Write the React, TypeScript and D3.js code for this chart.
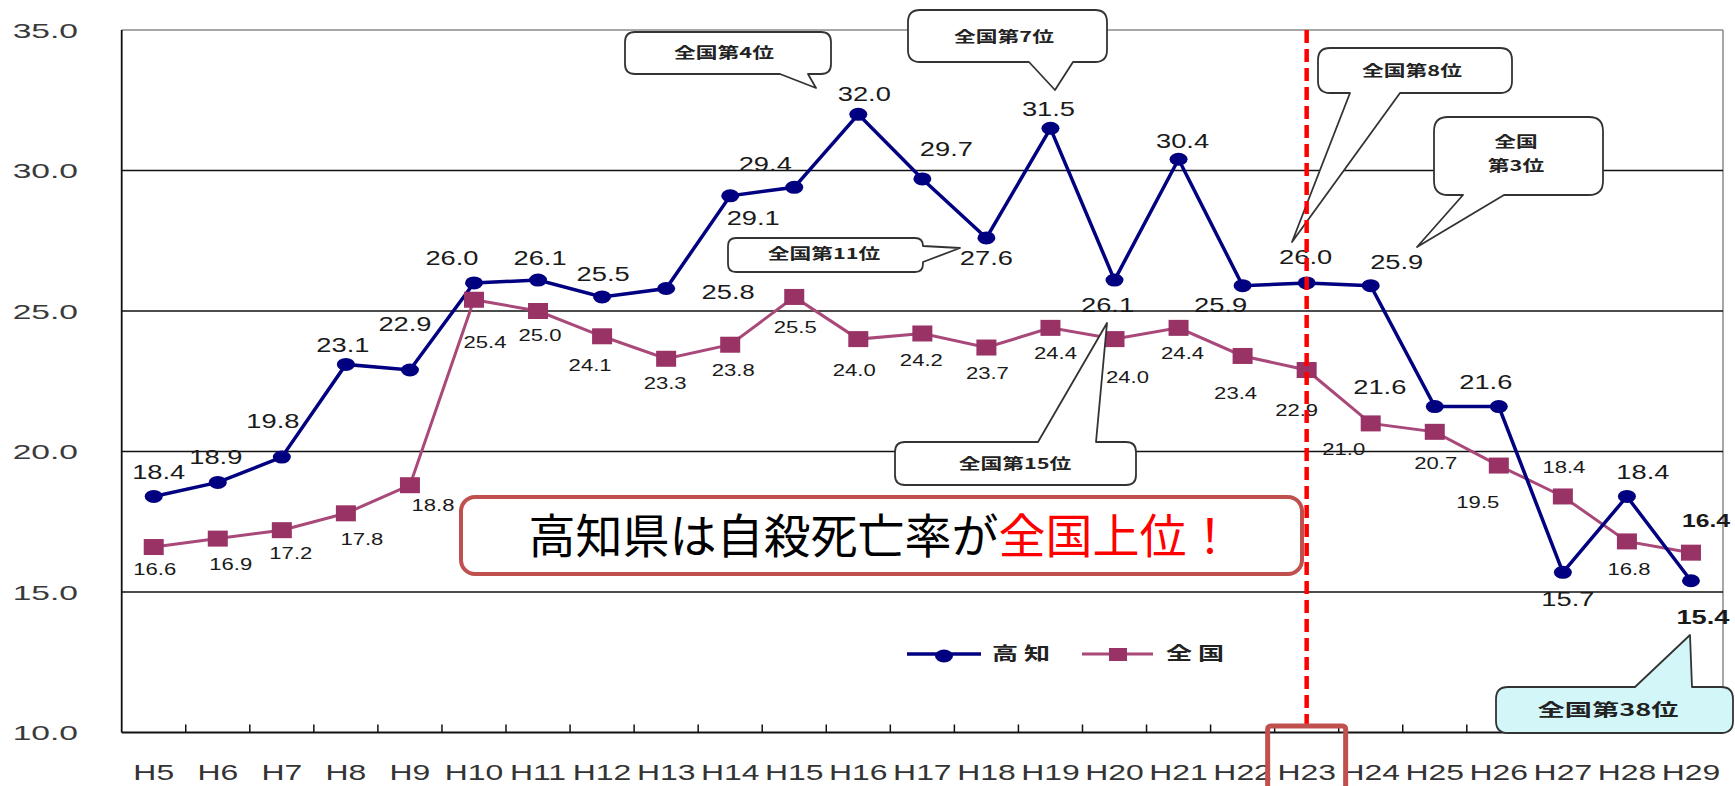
import React from 'react';
import * as d3 from 'd3';

const categories = ['H5','H6','H7','H8','H9','H10','H11','H12','H13','H14','H15','H16','H17','H18','H19','H20','H21','H22','H23','H24','H25','H26','H27','H28','H29'];
const kochi = [18.4,18.9,19.8,23.1,22.9,26.0,26.1,25.5,25.8,29.1,29.4,32.0,29.7,27.6,31.5,26.1,30.4,25.9,26.0,25.9,21.6,21.6,15.7,18.4,15.4];
const national = [16.6,16.9,17.2,17.8,18.8,25.4,25.0,24.1,23.3,23.8,25.5,24.0,24.2,23.7,24.4,24.0,24.4,23.4,22.9,21.0,20.7,19.5,18.4,16.8,16.4];
const yTicks = [10, 15, 20, 25, 30, 35];
const seriesNames = ['高 知', '全 国'];
const headline = ['高知県は自殺死亡率が', '全国上位！'];
const highlightCategory = 'H23';

// label placement (layout only)
const kochiLabelOffsets: [number, number][] = [
  [5,-25],[-2,-26],[-9,-37],[-3,-20],[-5,-47],[-22,-25],[2,-23],[1,-24],[62,3],[23,22],
  [-29,-24],[6,-21],[24,-31],[0,19],[-2,-20],[-7,24],[4,-19],[-22,19],[-1,-26],[26,-24],
  [-55,-20],[-13,-25],[5,26],[16,-25],[12,36]];
const nationalLabelOffsets: [number, number][] = [
  [1,22],[13,25],[9,23],[16,26],[23,20],[11,42],[2,24],[-12,29],[-1,24],[3,25],
  [1,30],[-4,31],[-1,26],[1,25],[5,25],[13,38],[4,25],[-7,37],[-10,40],[-27,25],
  [1,31],[-21,36],[1,-30],[2,27],[15,-33]];
const boldIndex = 24;

type Side = 'top' | 'bottom' | 'right' | 'left';
interface Callout { lines: string[]; x: number; y: number; w: number; h: number; r: number; side: Side; b1: number; b2: number; tip: [number, number]; tx: number; ty: number; fill?: string; fs?: number; }

const callouts: Callout[] = [
  { lines: ['全国第4位'], x: 625, y: 32, w: 206, h: 42, r: 10, side: 'bottom', b1: 780, b2: 808, tip: [816, 88], tx: 724, ty: 53 },
  { lines: ['全国第7位'], x: 908, y: 10, w: 199, h: 52, r: 12, side: 'bottom', b1: 1029, b2: 1073, tip: [1055, 90], tx: 1004, ty: 37 },
  { lines: ['全国第11位'], x: 728, y: 238, w: 195, h: 34, r: 8, side: 'right', b1: 246, b2: 262, tip: [960, 248], tx: 824, ty: 254 },
  { lines: ['全国第8位'], x: 1318, y: 48, w: 194, h: 45, r: 12, side: 'bottom', b1: 1350, b2: 1400, tip: [1292, 242], tx: 1412, ty: 71 },
  { lines: ['全国', '第3位'], x: 1434, y: 117, w: 169, h: 78, r: 14, side: 'bottom', b1: 1463, b2: 1504, tip: [1417, 247], tx: 1516, ty: 142 },
  { lines: ['全国第15位'], x: 895, y: 442, w: 241, h: 43, r: 10, side: 'top', b1: 1038, b2: 1096, tip: [1107, 323], tx: 1015, ty: 464 },
  { lines: ['全国第38位'], x: 1496, y: 687, w: 237, h: 46, r: 12, side: 'top', b1: 1635, b2: 1692, tip: [1690, 635], tx: 1608, ty: 710, fill: '#d3f6f9', fs: 17 },
];

function bubblePath(c: Callout): string {
  const { x, y, w, h, r, side, b1, b2, tip } = c;
  const t = `L${tip[0]},${tip[1]}`;
  let p = `M${x + r},${y}`;
  if (side === 'top') p += `L${b1},${y}${t}L${b2},${y}`;
  p += `L${x + w - r},${y}Q${x + w},${y} ${x + w},${y + r}`;
  if (side === 'right') p += `L${x + w},${b1}${t}L${x + w},${b2}`;
  p += `L${x + w},${y + h - r}Q${x + w},${y + h} ${x + w - r},${y + h}`;
  if (side === 'bottom') p += `L${b2},${y + h}${t}L${b1},${y + h}`;
  p += `L${x + r},${y + h}Q${x},${y + h} ${x},${y + h - r}`;
  if (side === 'left') p += `L${x},${b2}${t}L${x},${b1}`;
  p += `L${x},${y + r}Q${x},${y} ${x + r},${y}Z`;
  return p;
}

const NUM_FONT = '"Liberation Sans", Arial, sans-serif';
const CJK_FONT = '"Noto Sans CJK JP", "Noto Sans", sans-serif';

function SText({ x, y, sx = 1.3, size, anchor = 'middle', weight = 'normal', fill = '#1a1a1a', family = NUM_FONT, children }: any) {
  return (
    <g transform={`translate(${x},${y}) scale(${sx},1)`}>
      <text x={0} y={0} dy="0.36em" fontSize={size} textAnchor={anchor} fontWeight={weight} fill={fill} fontFamily={family}>{children}</text>
    </g>
  );
}

export default function App() {
  const W = 1735, H = 786;
  const left = 121.7, right = 1723, top = 30, bottom = 732.5;
  const x = d3.scaleBand<string>().domain(categories).range([left, right]).paddingInner(0).paddingOuter(0);
  const y = d3.scaleLinear().domain([10, 35]).range([bottom, top]);
  const cx = (c: string) => (x(c) as number) + x.bandwidth() / 2;

  const lineGen = d3.line<number>().x((_, i) => cx(categories[i])).y(v => y(v));
  const kochiPath = lineGen(kochi) || '';
  const natPath = lineGen(national) || '';

  const hx = cx(highlightCategory);
  const boundaries = categories.slice(1).map(c => x(c) as number);

  const navy = '#000080';
  const plum = '#993366';
  const plumLine = '#a8497a';

  return (
    <svg width={W} height={H} style={{ position: 'absolute', left: 0, top: 0, background: '#fff' }}>
      <rect x={0} y={0} width={W} height={H} fill="#fff" />
      {/* border top/right */}
      <line x1={left} x2={right} y1={y(35)} y2={y(35)} stroke="#8a8a8a" strokeWidth={1.5} />
      <line x1={right} x2={right} y1={y(35)} y2={bottom} stroke="#8a8a8a" strokeWidth={1.5} />
      {/* gridlines */}
      {yTicks.filter(t => t > 10 && t < 35).map(t => (
        <line key={t} x1={left} x2={right} y1={y(t)} y2={y(t)} stroke="#111" strokeWidth={1.6} />
      ))}
      {/* axes */}
      <line x1={left} x2={left} y1={y(35)} y2={bottom} stroke="#111" strokeWidth={1.8} />
      <line x1={left} x2={right} y1={bottom} y2={bottom} stroke="#111" strokeWidth={1.8} />
      {boundaries.map((b, i) => (
        <line key={i} x1={b} x2={b} y1={bottom} y2={bottom - 8} stroke="#111" strokeWidth={1.5} />
      ))}
      {/* y labels */}
      {yTicks.map(t => (
        <SText key={t} x={78} y={y(t)} sx={1.6} size={21} anchor="end" fill="#3a3a3a">{t.toFixed(1)}</SText>
      ))}
      {/* x labels */}
      {categories.map(c => (
        <SText key={c} x={cx(c)} y={772} sx={1.45} size={22} fill="#333">{c}</SText>
      ))}

      {/* series lines */}
      <path d={natPath} fill="none" stroke={plumLine} strokeWidth={3} />
      <path d={kochiPath} fill="none" stroke={navy} strokeWidth={3.5} />
      {national.map((v, i) => (
        <rect key={'n' + i} x={cx(categories[i]) - 10} y={y(v) - 8} width={20} height={16} fill={plum} />
      ))}
      {kochi.map((v, i) => (
        <ellipse key={'k' + i} cx={cx(categories[i])} cy={y(v)} rx={9} ry={6.5} fill={navy} />
      ))}

      {/* data labels */}
      {national.map((v, i) => (
        <SText key={'nl' + i} x={cx(categories[i]) + nationalLabelOffsets[i][0]} y={y(v) + nationalLabelOffsets[i][1]}
          sx={1.3} size={i === boldIndex ? 19 : 17} weight={i === boldIndex ? 'bold' : 'normal'}>{v.toFixed(1)}</SText>
      ))}
      {kochi.map((v, i) => (
        <SText key={'kl' + i} x={cx(categories[i]) + kochiLabelOffsets[i][0]} y={y(v) + kochiLabelOffsets[i][1]}
          sx={1.3} size={21} weight={i === boldIndex ? 'bold' : 'normal'}>{v.toFixed(1)}</SText>
      ))}

      {/* callouts */}
      {callouts.map((c, i) => (
        <g key={'c' + i}>
          <path d={bubblePath(c)} fill={c.fill || '#fff'} stroke="#333" strokeWidth={1.8} strokeLinejoin="round" />
          {c.lines.map((l, j) => (
            <SText key={j} x={c.tx} y={c.ty + j * 24} sx={c.fs ? 1.6 : 1.45} size={c.fs || 15} weight="bold" family={CJK_FONT} fill="#222">{l}</SText>
          ))}
        </g>
      ))}

      {/* legend */}
      <line x1={907} x2={981} y1={654} y2={654} stroke={navy} strokeWidth={3.5} />
      <ellipse cx={944} cy={656} rx={9} ry={6.5} fill={navy} />
      <SText x={992} y={654} sx={1.45} size={18} anchor="start" weight="bold" family={CJK_FONT} fill="#222">{seriesNames[0]}</SText>
      <line x1={1082} x2={1153} y1={654} y2={654} stroke={plumLine} strokeWidth={3} />
      <rect x={1109} y={648} width={18} height={13} fill={plum} />
      <SText x={1166} y={654} sx={1.45} size={18} anchor="start" weight="bold" family={CJK_FONT} fill="#222">{seriesNames[1]}</SText>

      {/* headline box */}
      <rect x={461} y={497} width={841} height={77} rx={14} ry={14} fill="#fff" stroke="#c0504d" strokeWidth={4} />
      <text x={881} y={536} dy="0.36em" textAnchor="middle" fontSize={47} fontFamily={CJK_FONT}>
        <tspan fill="#000">{headline[0]}</tspan>
        <tspan fill="#ff0000">{headline[1]}</tspan>
      </text>

      {/* highlight */}
      <line x1={hx} x2={hx} y1={top} y2={726} stroke="#ff0000" strokeWidth={4.5} strokeDasharray="13 6" />
      <rect x={hx - 39} y={726} width={78} height={80} rx={3} fill="none" stroke="#c0504d" strokeWidth={5} />
    </svg>
  );
}
